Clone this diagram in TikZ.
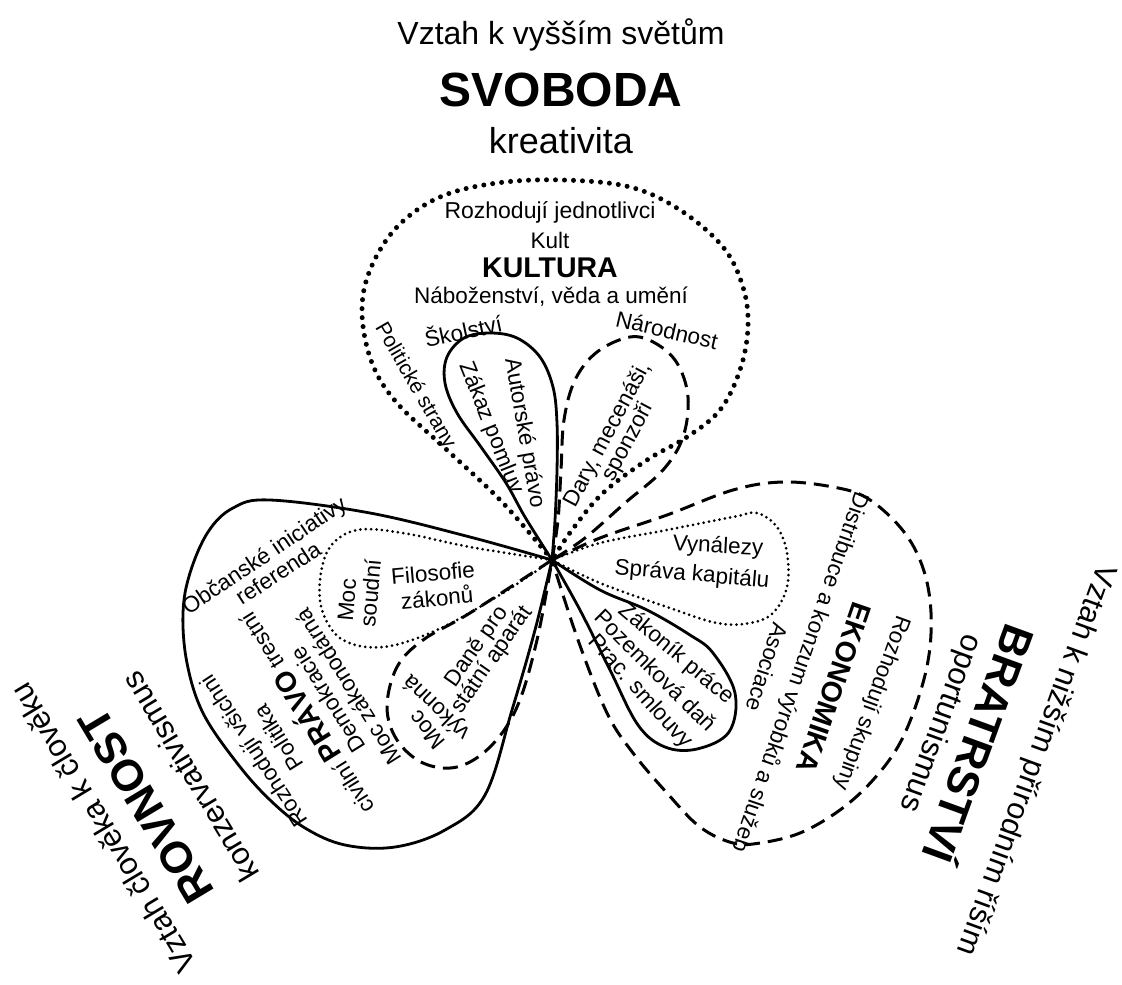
\documentclass[tikz,border=0pt]{standalone}
\usepackage{fontspec}
\setmainfont{Liberation Sans}
\begin{document}
\begin{tikzpicture}[x=1pt,y=-1pt,
  outer/.style={font=\fontsize{31}{35}\selectfont, inner sep=0pt},
  bigtitle/.style={font=\fontsize{44}{48}\selectfont\bfseries, inner sep=0pt},
  lobetitle/.style={font=\fontsize{28.5}{32}\selectfont\bfseries, inner sep=0pt},
  lbl/.style={font=\fontsize{22.5}{25}\selectfont, inner sep=0pt},
  bigdots/.style={line width=5pt, dash pattern=on 0pt off 9pt, line cap=round},
  smalldots/.style={line width=3pt, dash pattern=on 0pt off 5.4pt, line cap=round},
  dashline/.style={line width=3pt, dash pattern=on 15pt off 8pt},
  solidline/.style={line width=2.8pt},
  sm/.style={smooth, tension=0.6}
]
\useasboundingbox (0,0) rectangle (1122,985);
\fill[white] (0,0) rectangle (1122,985);

\coordinate (hub) at (552,560);

% ---------- top lobe (dotted) ----------
\draw[bigdots] plot[sm] coordinates {(hub) (503,503) (447,450) (397,403) (372,363) (362,313) (370,270) (397,227) (440,197) (497,183) (563,180) (630,187) (680,210) (723,247) (743,287) (748,327) (740,370) (720,410) (687,437) (647,460) (603,493) (572,530) (hub)};
\draw[solidline] plot[sm] coordinates {(hub) (525,517) (506,483) (481,447) (457,413) (445,383) (447,357) (464,338) (490,333) (517,338) (540,357) (553,387) (557,423) (557,470) (555,520) (hub)};
\draw[dashline] plot[sm] coordinates {(hub) (558,520) (561,470) (564,420) (575,380) (597,352) (630,337) (655,343) (677,363) (688,397) (683,437) (663,470) (625,503) (585,538) (hub)};

% ---------- left lobe (solid) ----------
\draw[solidline] plot[sm] coordinates {(hub) (470,537) (370,513) (270,500) (233,508) (208,532) (190,573) (183,613) (187,663) (203,713) (237,763) (270,800) (305,828) (345,845) (395,847) (445,830) (485,795) (512,710) (535,630) (hub)};
\draw[smalldots] plot[sm] coordinates {(hub) (470,547) (403,533) (357,530) (330,547) (320,580) (323,613) (343,640) (383,647) (437,630) (503,593) (hub)};
\draw[dashline] plot[sm] coordinates {(hub) (470,613) (423,640) (397,667) (387,707) (397,740) (423,763) (457,767) (490,747) (517,707) (537,640) (hub)};

% ---------- right lobe (dashed) ----------
\draw[dashline] plot[sm] coordinates {(hub) (600,538) (667,515) (733,490) (783,482) (833,487) (867,498) (900,527) (920,560) (930,600) (930,647) (920,693) (900,743) (873,780) (840,810) (800,833) (760,843) (733,843) (700,827) (667,793) (633,753) (607,713) (578,640) (hub)};
\draw[smalldots] plot[sm] coordinates {(hub) (600,543) (667,530) (733,517) (757,513) (777,527) (787,553) (787,587) (773,613) (750,623) (717,623) (667,607) (600,583) (hub)};
\draw[solidline] plot[sm] coordinates {(hub) (600,590) (647,610) (690,635) (713,653) (735,693) (729,732) (697,749) (665,747) (638,725) (610,670) (580,610) (hub)};

\fill (hub) circle (4pt);

% ---------- outer texts ----------
\node[outer, font=\fontsize{32}{36}\selectfont] (vztahT) at (561,35) {Vztah k vyšším světům};
\node[bigtitle, font=\fontsize{48}{52}\selectfont\bfseries] (svoboda) at (561,90) {SVOBODA};
\node[outer, font=\fontsize{36}{40}\selectfont] (kreat) at (561,141) {kreativita};

\node[outer, font=\fontsize{30.5}{34}\selectfont, rotate=-110] (vztahR) at (1035,760) {Vztah k nižším přírodním říším};
\node[bigtitle, rotate=-110] (bratr) at (982,745) {BRATRSTVÍ};
\node[outer, rotate=-110] (oport) at (940,723) {oportunismus};

\node[outer, rotate=121] (vztahL) at (103,828) {Vztah člověka k člověku};
\node[bigtitle, rotate=121] (rovnost) at (146,806) {ROVNOST};
\node[outer, rotate=121] (konz) at (190,777) {konzervativismus};

% ---------- top lobe texts ----------
\node[lbl, font=\fontsize{23}{26}\selectfont] (rozhT) at (550,212) {Rozhodují jednotlivci};
\node[lbl] (kult) at (550,240) {Kult};
\node[lobetitle] (kultura) at (550,268) {KULTURA};
\node[lbl] (nab) at (551,297) {Náboženství, věda a umění};
\node[lbl, rotate=12] (skol) at (463,330) {Školství};
\node[lbl, rotate=-13] (narod) at (667,330) {Národnost};
\node[lbl, font=\fontsize{21}{24}\selectfont, rotate=-60] (polstr) at (415,386) {Politické strany};
\node[lbl, rotate=-80] (autor) at (524,433) {Autorské právo};
\node[lbl, rotate=-68] (zakaz) at (491,428) {Zákaz pomluv};
\node[lbl, rotate=62] (dary) at (608,435) {Dary, mecenáši,};
\node[lbl, rotate=62] (sponz) at (628,442) {sponzoři};

% ---------- left lobe texts ----------
\node[lbl, rotate=34] (obc) at (265,557) {Občanské iniciativy};
\node[lbl, rotate=33] (refer) at (278,573) {referenda};
\node[lbl, rotate=123] (rozhL) at (255,750) {Rozhodují všichni};
\node[lbl, rotate=122] (polit) at (278,738) {Politika};
\node[lbl, rotate=122] (pravo) at (303,715) {civilní \fontsize{28.5}{32}\selectfont\bfseries PRÁVO\fontsize{22.5}{25}\selectfont\mdseries{} trestní};
\node[lbl, rotate=122] (demo) at (328,700) {Demokracie};
\node[lbl, rotate=122] (moczak) at (348,687) {Moc zákonodárná};
\node[lbl, rotate=85] (mocs) at (347,600) {Moc};
\node[lbl, rotate=85] (soud) at (370,593) {soudní};
\node[lbl, rotate=5] (filos) at (433,573) {Filosofie};
\node[lbl, rotate=5] (zakonu) at (437,597) {zákonů};
\node[lbl, rotate=55] (dane) at (477,647) {Daně pro};
\node[lbl, rotate=55] (statni) at (492,660) {státní aparát};
\node[lbl, rotate=130] (mocv) at (427,730) {Moc};
\node[lbl, rotate=136] (vykon) at (437,707) {výkonná};

% ---------- right lobe texts ----------
\node[lbl, rotate=-3] (vynal) at (718,547) {Vynálezy};
\node[lbl, rotate=-5] (sprava) at (692,575) {Správa kapitálu};
\node[lbl, rotate=-40] (zakonik) at (676,654) {Zákoník práce};
\node[lbl, rotate=-45] (pozem) at (656,670) {Pozemková daň};
\node[lbl, rotate=-48] (prac) at (640,692) {Prac. smlouvy};
\node[lbl, rotate=-108] (asoc) at (767,667) {Asociace};
\node[lbl, rotate=-109] (distr) at (800,672) {Distribuce a konzum výrobků a služeb};
\node[lobetitle, rotate=-109] (ekon) at (834,688) {EKONOMIKA};
\node[lbl, rotate=-110] (rozhR) at (872,703) {Rozhodují skupiny};
\end{tikzpicture}
\end{document}
